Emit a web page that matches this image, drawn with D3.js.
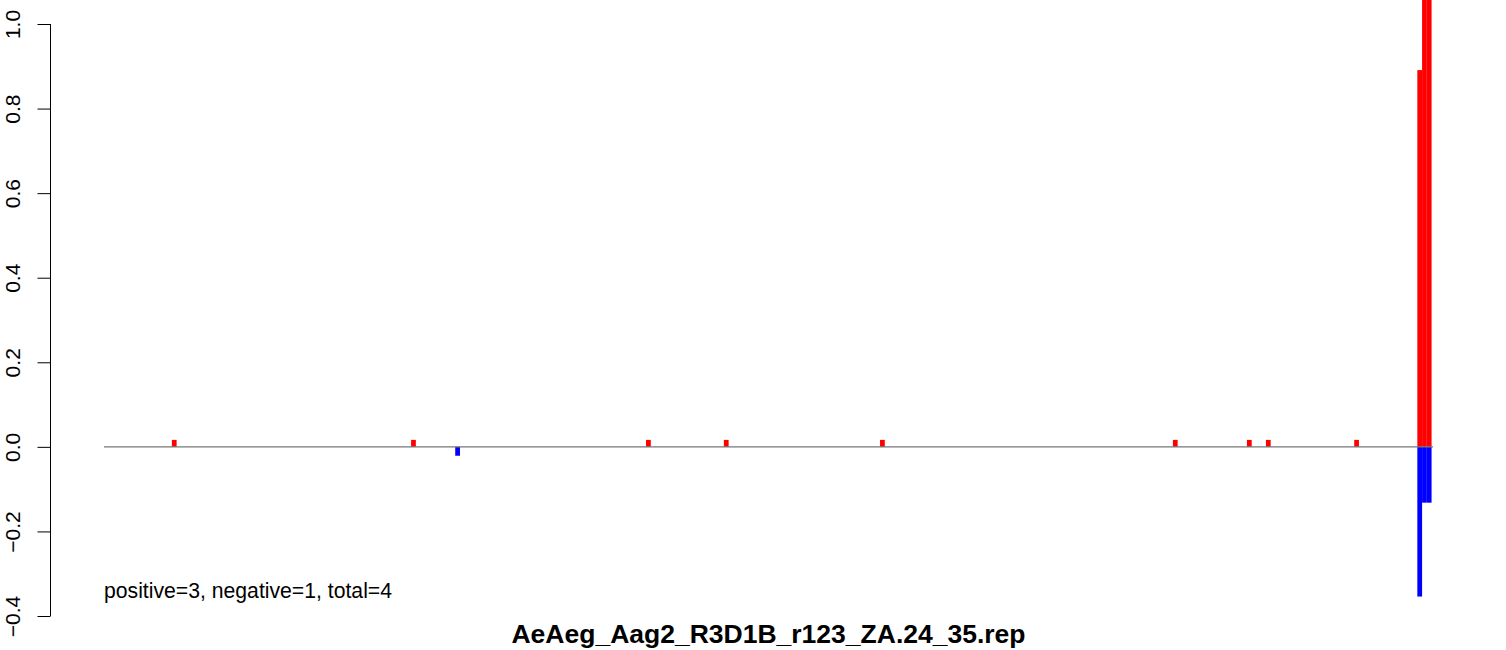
<!DOCTYPE html>
<html>
<head>
<meta charset="utf-8">
<script src="https://cdn.jsdelivr.net/npm/d3@7/dist/d3.min.js"></script>
<style>
  html, body { margin: 0; padding: 0; background: #fff; }
  svg { display: block; font-family: "Liberation Sans", Arial, Helvetica, sans-serif; }
</style>
</head>
<body>
<svg id="chart" width="1506" height="650"></svg>
<script>
// ---- data ----
const title = "AeAeg_Aag2_R3D1B_r123_ZA.24_35.rep";
const summaryText = "positive=3, negative=1, total=4";
const positionRange = [0, 280];
// bin start positions and values of positive (red) bars
const positivePositions = [14.3, 64.7, 114.2, 130.6, 163.5, 225.2, 240.8, 244.8, 263.4, 276.7, 277.7, 278.7];
const positiveValues    = [0.0165, 0.0165, 0.0165, 0.0165, 0.0165, 0.0165, 0.0165, 0.0165, 0.0165, 0.891, 1.2, 1.2];
// bin start positions and values of negative (blue) bars
const negativePositions = [74.0, 276.7, 277.7, 278.7];
const negativeValues    = [-0.021, -0.354, -0.132, -0.132];
const yTicks = [-0.4, -0.2, 0.0, 0.2, 0.4, 0.6, 0.8, 1.0];

// ---- layout ----
const svg = d3.select("#chart");
const x = d3.scaleLinear().domain(positionRange).range([104, 1433]);
const y = d3.scaleLinear().domain([-0.4, 1.0]).range([616, 24]);
const binW = x(1) - x(0);

const pos = positivePositions.map((p, i) => ({p, v: positiveValues[i]}));
const neg = negativePositions.map((p, i) => ({p, v: negativeValues[i]}));

// bars
svg.append("g").selectAll("rect").data(pos).join("rect")
  .attr("x", d => x(d.p)).attr("width", binW)
  .attr("y", d => y(d.v)).attr("height", d => y(0) - y(d.v))
  .attr("fill", "#ff0000");
svg.append("g").selectAll("rect").data(neg).join("rect")
  .attr("x", d => x(d.p)).attr("width", binW)
  .attr("y", y(0)).attr("height", d => y(d.v) - y(0))
  .attr("fill", "#0000ff");

// zero line
svg.append("line")
  .attr("x1", x(positionRange[0])).attr("x2", x(positionRange[1]))
  .attr("y1", y(0)).attr("y2", y(0))
  .attr("stroke", "#777").attr("stroke-width", 1.2);

// y axis
const yAxis = d3.axisLeft(y).tickValues(yTicks).tickSize(13).tickPadding(0)
  .tickFormat(d => d3.format(".1f")(d).replace("-", "\u2212"));
const ag = svg.append("g").attr("transform", "translate(50.5,0)").call(yAxis);
ag.select(".domain").attr("d", `M-0,${y(-0.4)}V${y(1.0)}`).attr("stroke", "#000").attr("fill", "none");
ag.selectAll(".tick line").attr("stroke", "#000");
ag.selectAll(".tick text")
  .attr("transform", "rotate(-90)")
  .attr("x", 0).attr("y", -30.5).attr("dy", 0)
  .attr("text-anchor", "middle")
  .attr("font-size", 21).attr("fill", "#000")
  .style("font-family", "'Liberation Sans', Arial, sans-serif");

// summary text
svg.append("text").attr("x", 104).attr("y", 598)
  .attr("font-size", 21.2).attr("fill", "#000").text(summaryText);

// title
svg.append("text").attr("x", 768.5).attr("y", 643)
  .attr("text-anchor", "middle").attr("font-size", 26.5).attr("font-weight", "bold")
  .attr("fill", "#000").text(title);
</script>
</body>
</html>
